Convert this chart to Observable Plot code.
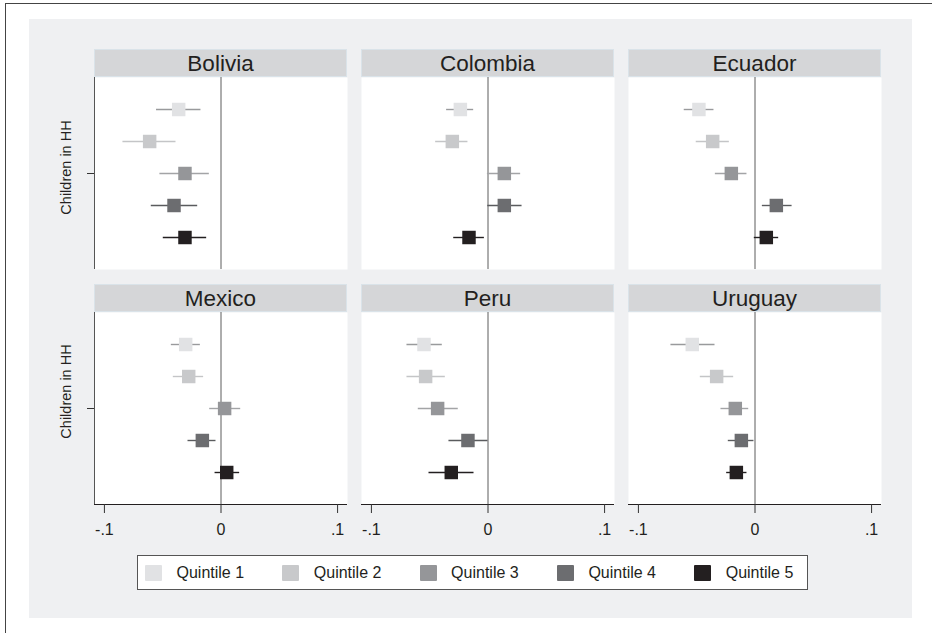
<!DOCTYPE html>
<html>
<head>
<meta charset="utf-8">
<script src="https://cdn.jsdelivr.net/npm/d3@7"></script>
<script src="https://cdn.jsdelivr.net/npm/@observablehq/plot@0.6"></script>
<style>
  body { margin: 0; background: #fff; font-family: "Liberation Sans", Arial, Helvetica, sans-serif; }
  #fig { position: relative; width: 932px; height: 633px; overflow: hidden; background: #fff; }
  #border { position: absolute; left: 5px; top: 3px; width: 1000px; height: 1000px; border-left: 1px solid #444; border-top: 1px solid #444; }
  #bg { position: absolute; left: 29px; top: 19px; width: 883px; height: 599px; background: #eff0f2; }
  .panel { position: absolute; }
  .panel svg { display: block; }
  #legend { position: absolute; left: 137px; top: 555px; width: 669px; height: 33px; background: #fff; border: 1px solid #555; }
  .sw { position: absolute; width: 17px; height: 16px; top: 565px; border-radius: 1px; }
  .lab { position: absolute; top: 563px; height: 20px; line-height: 20px; font-size: 16px; color: #231f20; white-space: nowrap; }
</style>
</head>
<body>
<div id="fig">
  <div id="border"></div>
  <div id="bg"></div>
  <div id="legend"></div>
</div>
<script>
// ---- data ----
const countries = ["Bolivia", "Colombia", "Ecuador", "Mexico", "Peru", "Uruguay"];
const quintiles = ["Quintile 1", "Quintile 2", "Quintile 3", "Quintile 4", "Quintile 5"];
const yLabel = "Children in HH";
// point estimates, one row per country, one column per quintile
const coef = [
  [-0.0363, -0.0612, -0.0309, -0.0403, -0.0309],
  [-0.0237, -0.0306,  0.0140,  0.0140, -0.0163],
  [-0.0481, -0.0363, -0.0203,  0.0183,  0.0097],
  [-0.0303, -0.0277,  0.0031, -0.0160,  0.0049],
  [-0.0549, -0.0535, -0.0432, -0.0172, -0.0315],
  [-0.0538, -0.0329, -0.0169, -0.0117, -0.0160]
];
const ciLow = [
  [-0.0553, -0.0841, -0.0524, -0.0598, -0.0495],
  [-0.0355, -0.0449, -0.0005, -0.0002, -0.0294],
  [-0.0607, -0.0504, -0.0340,  0.0063, -0.0006],
  [-0.0426, -0.0409, -0.0097, -0.0283, -0.0051],
  [-0.0695, -0.0695, -0.0598, -0.0335, -0.0506],
  [-0.0721, -0.0469, -0.0292, -0.0229, -0.0243]
];
const ciHigh = [
  [-0.0172, -0.0386, -0.0100, -0.0200, -0.0123],
  [-0.0123, -0.0172,  0.0280,  0.0292, -0.0031],
  [-0.0352, -0.0220, -0.0069,  0.0318,  0.0203],
  [-0.0177, -0.0149,  0.0169, -0.0043,  0.0160],
  [-0.0392, -0.0366, -0.0255,  0.0000, -0.0120],
  [-0.0343, -0.0183, -0.0054, -0.0009, -0.0069]
];
const xTicks = [-0.1, 0, 0.1];
const xTickLabels = ["-.1", "0", ".1"];

// ---- styles ----
const markerColors = ["#e1e2e4", "#c8c9cb", "#959699", "#6c6d70", "#231f20"];
const lineColors = ["#999a9c", "#c4c5c7", "#a3a4a6", "#5a5b5e", "#231f20"];
const ink = "#231f20";
const xDomain = [-0.1085, 0.1085];
const fontFamily = '"Liberation Sans", Arial, Helvetica, sans-serif';

const fig = document.getElementById("fig");

countries.forEach((name, k) => {
  const col = k % 3, row = Math.floor(k / 3);
  const isLeft = col === 0, isBottom = row === 1;
  const rows = quintiles.map((q, i) => ({q, i, pos: i + 1, b: coef[k][i], lo: ciLow[k][i], hi: ciHigh[k][i]}));
  const mL = 44, mR = 6, mT = 28, mB = isBottom ? 40 : 4, innerH = 192, innerW = 253;

  const header = (index, scales, values, dims) => {
    const g = d3.create("svg:g");
    const w = dims.width - dims.marginLeft - dims.marginRight;
    g.append("rect")
      .attr("x", dims.marginLeft + 0.5).attr("y", 0.5)
      .attr("width", w - 1).attr("height", dims.marginTop - 1)
      .attr("fill", "#d5d6d8").attr("stroke", "#dae3e9");
    g.append("text")
      .attr("x", dims.marginLeft + w / 2).attr("y", dims.marginTop / 2)
      .attr("dy", "0.35em").attr("text-anchor", "middle")
      .attr("font-size", 22.5).attr("font-family", fontFamily)
      .attr("fill", ink).text(name);
    return g.node();
  };

  const marks = [
    Plot.frame({fill: "white", stroke: "none"}),
    header,
    Plot.ruleX([0], {stroke: "#5c5c5c", strokeWidth: 1})
  ];
  if (isLeft) {
    marks.push(Plot.ruleX([xDomain[0]], {stroke: "#555", strokeWidth: 1}));
    marks.push(Plot.axisY([3], {tickSize: 7, tickFormat: () => "", label: null, stroke: "#333"}));
    marks.push(Plot.text([yLabel], {
      frameAnchor: "left", textAnchor: "middle", lineAnchor: "middle", rotate: -90,
      dx: -28, dy: isBottom ? -17 : -6, fontSize: 14.5, fill: ink
    }));
  }
  if (isBottom) {
    marks.push(Plot.ruleY([6], {stroke: ink, strokeWidth: 1.2}));
    marks.push(Plot.axisX(xTicks, {
      tickFormat: d => xTickLabels[xTicks.indexOf(d)],
      tickSize: 9, tickPadding: 10, fontSize: 16, stroke: "#333", fill: ink, label: null
    }));
  }
  marks.push(Plot.ruleY(rows, {y: "pos", x1: "lo", x2: "hi", stroke: d => lineColors[d.i], strokeWidth: 1.4}));
  marks.push(Plot.dot(rows, {x: "b", y: "pos", symbol: "square", r: 7.6, fill: d => markerColors[d.i], stroke: "none"}));

  const xOpts = {domain: xDomain};
  if (!isBottom) xOpts.axis = null;
  const yOpts = {domain: [0, 6], reverse: true};
  if (!isLeft) yOpts.axis = null;

  const svg = Plot.plot({
    width: mL + innerW + mR,
    height: mT + innerH + mB,
    marginLeft: mL, marginRight: mR, marginTop: mT, marginBottom: mB,
    style: {background: "transparent", fontFamily, overflow: "visible"},
    x: xOpts,
    y: yOpts,
    color: {type: "identity"},
    marks
  });
  const div = document.createElement("div");
  div.className = "panel";
  div.style.left = (94 + col * 267 - mL) + "px";
  div.style.top = (row === 0 ? 49 : 284) + "px";
  div.style.width = (mL + innerW + mR) + "px";
  div.appendChild(svg);
  fig.appendChild(div);
});

// legend
quintiles.forEach((q, i) => {
  const sw = document.createElement("div");
  sw.className = "sw";
  sw.style.left = (145 + i * 137.3) + "px";
  sw.style.background = markerColors[i];
  fig.appendChild(sw);
  const lab = document.createElement("div");
  lab.className = "lab";
  lab.style.left = (176.5 + i * 137.3) + "px";
  lab.textContent = q;
  fig.appendChild(lab);
});
</script>
</body>
</html>
